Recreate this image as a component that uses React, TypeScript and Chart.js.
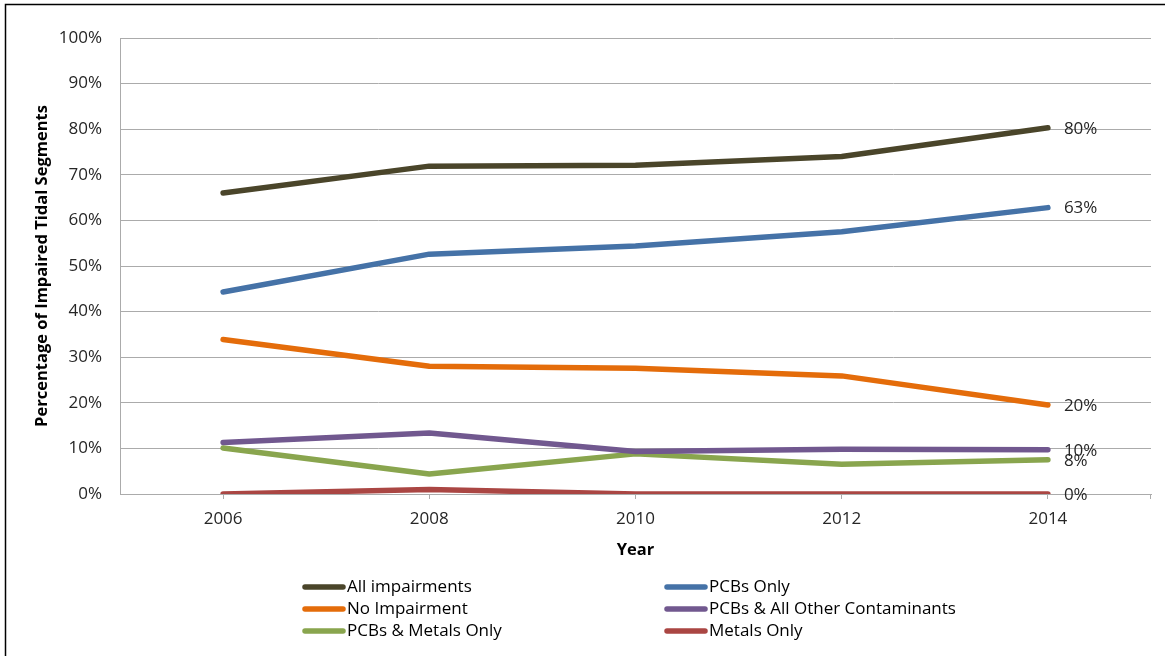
import React, { useEffect, useRef } from "react";
import { Chart, registerables } from "chart.js";

Chart.register(...registerables);

const years = ["2006", "2008", "2010", "2012", "2014"];
const allImpairments = [66.0, 71.9, 72.1, 74.0, 80.3];
const pcbsOnly = [44.3, 52.6, 54.4, 57.5, 62.8];
const noImpairment = [33.9, 28.0, 27.6, 25.9, 19.5];
const pcbsAllOther = [11.3, 13.4, 9.3, 9.8, 9.7];
const pcbsMetals = [10.1, 4.4, 8.8, 6.5, 7.5];
const metalsOnly = [0, 1.0, 0, 0, 0];

const seriesNames = [
  "All impairments",
  "PCBs Only",
  "No Impairment",
  "PCBs & All Other Contaminants",
  "PCBs & Metals Only",
  "Metals Only",
];
const seriesValues = [allImpairments, pcbsOnly, noImpairment, pcbsAllOther, pcbsMetals, metalsOnly];
const seriesColors = ["#4A452A", "#4572A7", "#E46C0A", "#71588F", "#89A54E", "#AA4643"];
const endLabels = ["80%", "63%", "20%", "10%", "8%", "0%"];

const yTitle = "Percentage of Impaired Tidal Segments";
const xTitle = "Year";

const FONT = "'Open Sans', 'Liberation Sans', sans-serif";
const TEXT = "#262626";
const GRID = "#ababab";

const overlay = {
  id: "overlay",
  beforeDraw(chart: any) {
    const ctx = chart.ctx;
    ctx.save();
    ctx.fillStyle = "#ffffff";
    ctx.fillRect(0, 0, chart.width, chart.height);
    ctx.strokeStyle = "#000000";
    ctx.lineWidth = 1.5;
    ctx.beginPath();
    ctx.moveTo(5.5, chart.height);
    ctx.lineTo(5.5, 4.5);
    ctx.lineTo(chart.width, 4.5);
    ctx.stroke();
    ctx.restore();
  },
  afterDatasetsDraw(chart: any) {
    const ctx = chart.ctx;
    const area = chart.chartArea;
    ctx.save();
    // end labels
    ctx.font = `17px ${FONT}`;
    ctx.fillStyle = TEXT;
    ctx.textAlign = "left";
    ctx.textBaseline = "middle";
    chart.data.datasets.forEach((ds: any, i: number) => {
      const meta = chart.getDatasetMeta(i);
      const pt = meta.data[meta.data.length - 1];
      ctx.fillText(endLabels[i], pt.x + 16, pt.y + 1);
    });
    // right edge tick
    ctx.strokeStyle = GRID;
    ctx.lineWidth = 1;
    ctx.beginPath();
    ctx.moveTo(Math.round(area.right) - 0.5, area.bottom);
    ctx.lineTo(Math.round(area.right) - 0.5, area.bottom + 5);
    ctx.stroke();
    // axis titles
    ctx.font = `bold 16.5px ${FONT}`;
    ctx.fillStyle = "#000000";
    ctx.textAlign = "center";
    ctx.textBaseline = "middle";
    ctx.fillText(xTitle, (area.left + area.right) / 2, 550);
    ctx.save();
    ctx.translate(42, (area.top + area.bottom) / 2);
    ctx.rotate(-Math.PI / 2);
    ctx.fillText(yTitle, 0, 0);
    ctx.restore();
    // legend
    const colX = [303, 665];
    const rowY = [587, 609, 631];
    ctx.font = `17px ${FONT}`;
    ctx.textAlign = "left";
    chart.data.datasets.forEach((ds: any, i: number) => {
      const x = colX[i % 2];
      const y = rowY[Math.floor(i / 2)];
      ctx.strokeStyle = ds.borderColor;
      ctx.lineWidth = 5.5;
      ctx.lineCap = "round";
      ctx.beginPath();
      ctx.moveTo(x + 2, y);
      ctx.lineTo(x + 40, y);
      ctx.stroke();
      ctx.fillStyle = "#000000";
      ctx.fillText(ds.label, x + 44, y);
    });
    ctx.restore();
  },
};

export default function App() {
  const ref = useRef<HTMLCanvasElement | null>(null);
  useEffect(() => {
    if (!ref.current) return;
    const chart = new Chart(ref.current, {
      type: "line",
      data: {
        labels: years,
        datasets: seriesNames.map((name, i) => ({
          label: name,
          data: seriesValues[i],
          borderColor: seriesColors[i],
          backgroundColor: seriesColors[i],
          borderWidth: 5.5,
          pointRadius: 0,
          tension: 0,
          borderCapStyle: "round" as const,
          borderJoinStyle: "round" as const,
        })),
      },
      options: {
        animation: false,
        responsive: true,
        maintainAspectRatio: false,
        layout: { padding: { top: 38, right: 14, left: 0, bottom: 0 } },
        plugins: { legend: { display: false }, tooltip: { enabled: false } },
        scales: {
          x: {
            type: "category",
            offset: true,
            afterFit: (s: any) => {
              s.height = 162;
            },
            grid: { drawOnChartArea: false, drawTicks: true, tickLength: 5, color: GRID, offset: false },
            border: { display: true, color: GRID },
            ticks: { color: TEXT, font: { family: FONT, size: 17 }, padding: 10, maxRotation: 0 },
          },
          y: {
            min: 0,
            max: 100,
            afterFit: (s: any) => {
              s.width = 120;
            },
            grid: { color: GRID, drawTicks: false },
            border: { display: true, color: GRID },
            ticks: {
              stepSize: 10,
              color: TEXT,
              padding: 18,
              font: { family: FONT, size: 17 },
              callback: (v: any) => `${v}%`,
            },
          },
        },
      },
      plugins: [overlay],
    });
    return () => chart.destroy();
  }, []);
  return (
    <div style={{ position: "fixed", left: 0, top: 0, width: 1165, height: 656, background: "#fff" }}>
      <canvas ref={ref} />
    </div>
  );
}
